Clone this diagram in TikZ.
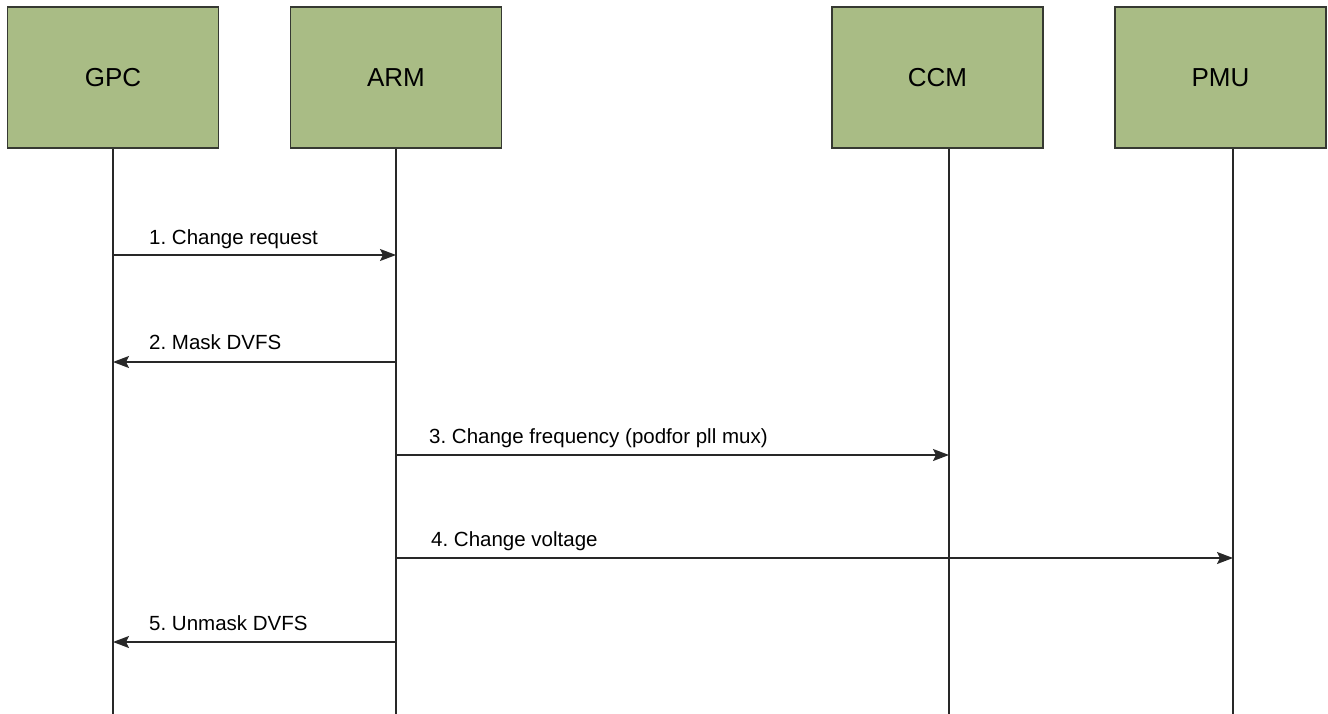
\documentclass[tikz,border=0pt]{standalone}
\usepackage{fontspec}
\setmainfont{Liberation Sans}
\frenchspacing
\usetikzlibrary{arrows.meta}
\definecolor{boxfill}{RGB}{169,188,133}
\definecolor{boxline}{RGB}{54,57,50}
\definecolor{lineclr}{RGB}{40,40,40}
\tikzset{
  actor/.style={draw=boxline, line width=1.8pt, fill=boxfill, minimum width=211pt, minimum height=141pt, inner sep=0pt,
    font=\fontsize{26}{30}\selectfont},
  lifeline/.style={draw=lineclr, line width=1.6pt},
  msg/.style={draw=lineclr, line width=1.6pt, -{Stealth[length=16pt,width=12pt,inset=3pt]}},
  msglabel/.style={anchor=base west, inner sep=0pt, font=\fontsize{20.5}{25}\selectfont}
}
\begin{document}
\begin{tikzpicture}[x=1pt,y=-1pt]
\useasboundingbox (0,0) rectangle (1328,714);
\node[actor] (gpc) at (113,77.5) {GPC};
\node[actor] (arm) at (396,77.5) {ARM};
\node[actor] (ccm) at (937.5,77.5) {CCM};
\node[actor] (pmu) at (1220.5,77.5) {PMU};
% lifeline ends
\coordinate (gpcb) at (113,714);
\coordinate (armb) at (396,714);
\coordinate (ccmb) at (949,714);
\coordinate (pmub) at (1233,714);
\draw[lifeline] (gpc.south -| gpcb) -- (gpcb);
\draw[lifeline] (arm.south -| armb) -- (armb);
\draw[lifeline] (ccm.south -| ccmb) -- (ccmb);
\draw[lifeline] (pmu.south -| pmub) -- (pmub);
% message anchor points
\coordinate (g1) at (113,255);  \coordinate (a1) at (396,255);
\coordinate (g2) at (113,362);  \coordinate (a2) at (396,362);
\coordinate (a3) at (396,455);  \coordinate (c3) at (949,455);
\coordinate (a4) at (396,558);  \coordinate (p4) at (1233,558);
\coordinate (g5) at (113,642);  \coordinate (a5) at (396,642);
\draw[msg] (g1) -- (a1);
\draw[msg] (a2) -- (g2);
\draw[msg] (a3) -- (c3);
\draw[msg] (a4) -- (p4);
\draw[msg] (a5) -- (g5);
\node[msglabel] (l1) at (149,244) {1. Change request};
\node[msglabel] (l2) at (149,349) {2. Mask DVFS};
\node[msglabel] (l3) at (429,443) {3. Change frequency (podfor pll mux)};
\node[msglabel] (l4) at (431,546) {4. Change voltage};
\node[msglabel] (l5) at (149,630) {5. Unmask DVFS};
\end{tikzpicture}
\end{document}
